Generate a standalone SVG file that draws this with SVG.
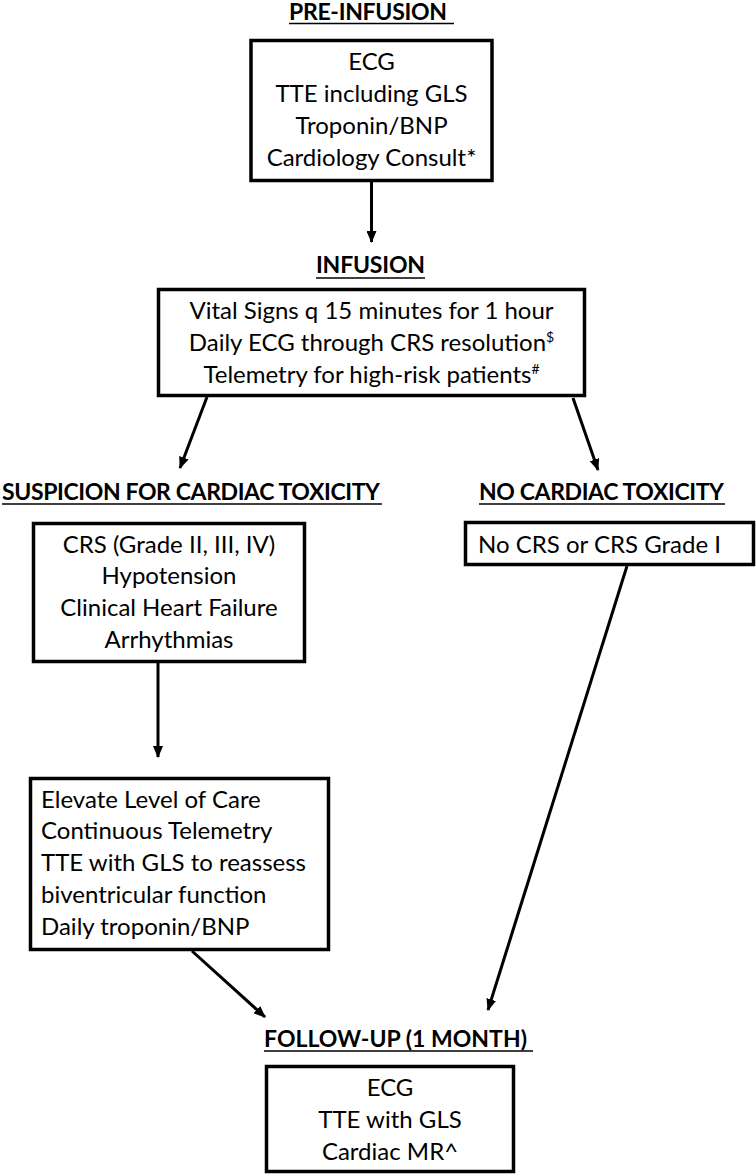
<svg xmlns="http://www.w3.org/2000/svg" width="756" height="1176" viewBox="0 0 756 1176">
<style>
.box{fill:#fff;stroke:#000;stroke-width:3.5}
.t{font-family:Lato,"Liberation Sans",sans-serif;font-size:24px;fill:#000}
.c{text-anchor:middle}
.h{font-family:Lato,"Liberation Sans",sans-serif;font-size:23px;font-weight:bold;fill:#000}
.ul{stroke:#000;stroke-width:1.6}
.con{stroke:#000;stroke-width:3;fill:none;marker-end:url(#ah)}
.sup{font-size:14px}
</style>
<defs>
<marker id="ah" viewBox="0 0 12 10" refX="11" refY="5" markerWidth="12" markerHeight="10" markerUnits="userSpaceOnUse" orient="auto">
<path d="M0,0 L12,5 L0,10 z" fill="#000"/>
</marker>
</defs>
<rect width="756" height="1176" fill="#fff"/>
<g id="connectors">
<line class="con" x1="371.5" y1="182" x2="371.5" y2="242"/>
<line class="con" x1="207" y1="397" x2="180" y2="468"/>
<line class="con" x1="573" y1="398" x2="598" y2="470"/>
<line class="con" x1="158" y1="663" x2="158" y2="757"/>
<line class="con" x1="627" y1="566" x2="488" y2="1010"/>
<line class="con" x1="192" y1="951" x2="265" y2="1017"/>
</g>
<g id="label-pre">
<text class="h" x="289" y="20" textLength="158">PRE-INFUSION</text>
<line class="ul" x1="289" y1="23.5" x2="454" y2="23.5"/>
</g>
<g id="node-pre">
<rect class="box" x="251" y="40.5" width="241" height="140"/>
<text class="t c" x="371.5" y="70">ECG</text>
<text class="t c" x="371.5" y="102">TTE including GLS</text>
<text class="t c" x="371.5" y="134">Troponin/BNP</text>
<text class="t c" x="371.5" y="166">Cardiology Consult*</text>
</g>
<g id="label-inf">
<text class="h" x="316" y="273" textLength="109">INFUSION</text>
<line class="ul" x1="316" y1="278" x2="425" y2="278"/>
</g>
<g id="node-inf">
<rect class="box" x="158.5" y="289.5" width="426" height="106"/>
<text class="t c" x="371.5" y="319">Vital Signs q 15 minutes for 1 hour</text>
<text class="t c" x="371.5" y="351">Daily ECG through CRS resolution<tspan class="sup" dy="-9">$</tspan></text>
<text class="t c" x="371.5" y="383">Telemetry for high-risk patients<tspan class="sup" dy="-9">#</tspan></text>
</g>
<g id="label-susp">
<text class="h" x="2" y="500" textLength="378">SUSPICION FOR CARDIAC TOXICITY</text>
<line class="ul" x1="2" y1="504" x2="382" y2="504"/>
</g>
<g id="label-no">
<text class="h" x="479" y="500" textLength="245">NO CARDIAC TOXICITY</text>
<line class="ul" x1="479" y1="504" x2="725" y2="504"/>
</g>
<g id="node-susp">
<rect class="box" x="33.5" y="523.5" width="271" height="138"/>
<text class="t c" x="169" y="553">CRS (Grade II, III, IV)</text>
<text class="t c" x="169" y="584">Hypotension</text>
<text class="t c" x="169" y="616">Clinical Heart Failure</text>
<text class="t c" x="169" y="648">Arrhythmias</text>
</g>
<g id="node-no">
<rect class="box" x="465.5" y="522.5" width="288" height="42"/>
<text class="t" x="478" y="553">No CRS or CRS Grade I</text>
</g>
<g id="node-elev">
<rect class="box" x="30.5" y="778.5" width="298" height="171"/>
<text class="t" x="41" y="808">Elevate Level of Care</text>
<text class="t" x="41" y="839">Continuous Telemetry</text>
<text class="t" x="41" y="871">TTE with GLS to reassess</text>
<text class="t" x="41" y="903">biventricular function</text>
<text class="t" x="41" y="935">Daily troponin/BNP</text>
</g>
<g id="label-fu">
<text class="h" x="264" y="1047" textLength="263">FOLLOW-UP (1 MONTH)</text>
<line class="ul" x1="264" y1="1051" x2="533" y2="1051"/>
</g>
<g id="node-fu">
<rect class="box" x="266.5" y="1066.5" width="247" height="105"/>
<text class="t c" x="390" y="1096">ECG</text>
<text class="t c" x="390" y="1128">TTE with GLS</text>
<text class="t c" x="390" y="1160">Cardiac MR^</text>
</g>
</svg>
